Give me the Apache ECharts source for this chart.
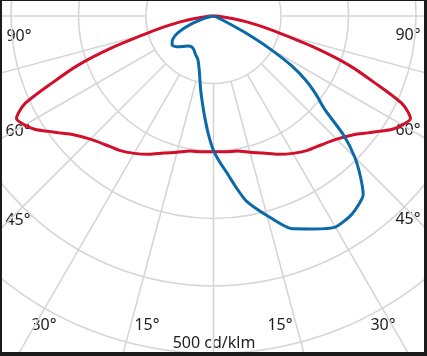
<!DOCTYPE html>
<html>
<head>
<meta charset="utf-8">
<script src="https://cdn.jsdelivr.net/npm/echarts@6/dist/echarts.min.js"></script>
<style>
    html, body { margin: 0; padding: 0; background: #fff; }
    #wrap { position: relative; width: 427px; height: 356px; }
    #chart { width: 427px; height: 356px; }
    #frame { position: absolute; left: 0; top: 0; width: 427px; height: 356px; box-sizing: border-box;
             border-style: solid; border-color: #1b1b1b; border-width: 1px 3px 4px 2px; pointer-events: none; }
</style>
</head>
<body>
<div id="wrap"><div id="chart"></div><div id="frame"></div></div>
<script>
// red curve (symmetric plane), gamma angle -> cd/klm
var redAngles = [0, 5, 10, 15, 20, 25, 30, 35, 40, 45, 50, 52.5, 55, 57.5, 60, 62.5, 65, 67.5, 70, 72.5, 75, 77.5, 80, 82.5, 85, 87.5, 90];
var redValues = [201, 202, 203, 209, 216, 226, 235, 243, 249, 258, 273, 285, 298, 313, 323, 329, 309, 258, 214, 160, 108, 75, 50, 28, 12, 4, 0];

// blue curve, left half (from 90 down to 0)
var blueLeftAngles = [90, 80, 75, 70, 65, 60, 55, 50, 45, 40, 35, 30, 25, 20, 15, 10, 7.5, 5, 2.5, 0];
var blueLeftValues = [0, 4, 14, 36, 58, 70, 75, 71, 64, 58, 56, 58, 63, 68, 82, 110, 128, 150, 175, 199];
// blue curve, right half (from 0 up to 90)
var blueRightAngles = [2.5, 5, 7.5, 10, 15, 20, 25, 30, 35, 40, 42.5, 45, 47.5, 50, 52.5, 55, 57.5, 60, 62.5, 65, 70, 80, 90];
var blueRightValues = [217, 234, 256, 278, 306, 335, 348, 361, 358, 345, 322, 296, 262, 215, 192, 168, 137, 93, 50, 20, 5, 1, 0];

// tick labels
var angleLabels = ['90°', '60°', '45°', '30°', '15°', '15°', '30°', '45°', '60°', '90°'];
var unitLabel = '500 cd/klm';
var labelPos = [[19, 36], [18, 131], [18, 220], [44, 325], [147, 325],
                [280, 325], [383, 325], [408, 219], [408, 130], [408, 35]];

var CX = 213.5, CY = 16, RING = 67.5;
var gridColor = '#d6d6d6';

// build polar data: [radius, angle], 0 points down, left side positive
var redData = [];
for (var i = redAngles.length - 1; i >= 0; i--) {
    redData.push([redValues[i], redAngles[i]]);
}
for (var i = 1; i < redAngles.length; i++) {
    redData.push([redValues[i], 360 - redAngles[i]]);
}
var blueData = [];
for (var i = 0; i < blueLeftAngles.length; i++) {
    blueData.push([blueLeftValues[i], blueLeftAngles[i]]);
}
for (var i = 0; i < blueRightAngles.length; i++) {
    blueData.push([blueRightValues[i], 360 - blueRightAngles[i]]);
}

var graphics = [];
for (var i = 0; i < angleLabels.length; i++) {
    graphics.push({
        type: 'text', x: labelPos[i][0], y: labelPos[i][1], silent: true,
        style: { text: angleLabels[i], fill: '#1e1e1e', font: '16px "Noto Sans"', align: 'center', verticalAlign: 'middle' }
    });
}
graphics.push({
    type: 'text', x: 214, y: 343, silent: true,
    style: { text: unitLabel, fill: '#1e1e1e', font: '16px "Noto Sans"', align: 'center', verticalAlign: 'middle' }
});

var option = {
    animation: false,
    backgroundColor: '#fff',
    polar: [
        { center: [CX, CY], radius: [RING, RING * 7] },
        { center: [CX, CY], radius: RING * 5 }
    ],
    angleAxis: [
        {
            polarIndex: 0, type: 'value', min: 0, max: 360, interval: 15,
            startAngle: 270, clockwise: true,
            axisLine: { show: false }, axisTick: { show: false }, axisLabel: { show: false },
            splitLine: { show: true, lineStyle: { color: gridColor, width: 1.6 } }
        },
        {
            polarIndex: 1, type: 'value', min: 0, max: 360,
            startAngle: 270, clockwise: true, show: false
        }
    ],
    radiusAxis: [
        {
            polarIndex: 0, type: 'value', min: 100, max: 700, interval: 100,
            axisLine: { show: false }, axisTick: { show: false }, axisLabel: { show: false },
            splitLine: { show: true, lineStyle: { color: gridColor, width: 1.6 } }
        },
        { polarIndex: 1, type: 'value', min: 0, max: 500, show: false }
    ],
    series: [
        {
            type: 'line', coordinateSystem: 'polar', polarIndex: 1,
            data: redData, symbol: 'none', smooth: 0.25, clip: false,
            lineStyle: { color: '#d20f2b', width: 3 }
        },
        {
            type: 'line', coordinateSystem: 'polar', polarIndex: 1,
            data: blueData, symbol: 'none', smooth: 0.2, clip: false,
            lineStyle: { color: '#0b69a9', width: 3 }
        }
    ],
    graphic: graphics
};

var myChart = echarts.init(document.getElementById('chart'), null, { renderer: 'canvas' });
myChart.setOption(option);
</script>
</body>
</html>
